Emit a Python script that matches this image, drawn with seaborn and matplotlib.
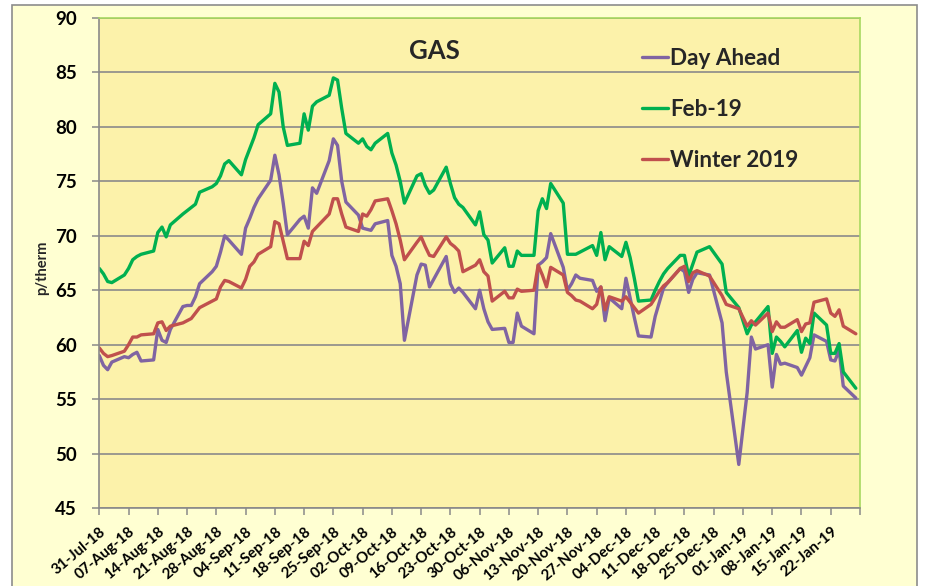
import matplotlib
matplotlib.use("Agg")
import matplotlib.pyplot as plt
import matplotlib.dates as mdates
from matplotlib.patches import Rectangle
from matplotlib.lines import Line2D
import seaborn as sns
import pandas as pd

# ---------------- data ----------------
holidays = ["2018-12-25", "2018-12-26", "2019-01-01"]
dates = [d for d in pd.bdate_range("2018-07-31", "2019-01-28")
         if d.strftime("%Y-%m-%d") not in holidays]

day_ahead = [
    59.0, 58.1, 57.7, 58.4,
    58.9, 58.8, 59.1, 59.3, 58.5,
    58.6, 61.4, 60.4, 60.2, 61.4,
    63.5, 63.6, 63.6, 64.4, 65.6,
    66.7, 67.2, 68.5, 70.0, 69.6,
    68.3, 70.7, 71.6, 72.6, 73.4,
    75.1, 77.4, 75.6, 73.0, 70.1,
    71.5, 71.8, 70.7, 74.4, 73.9,
    76.9, 78.9, 78.3, 75.0, 73.1,
    71.9, 70.7, 70.6, 70.5, 71.1,
    71.4, 68.2, 67.2, 65.6, 60.4,
    66.4, 67.4, 67.3, 65.3, 66.0,
    68.1, 65.6, 64.8, 65.2, 64.8,
    63.3, 65.0, 63.3, 62.1, 61.4,
    61.5, 60.2, 60.2, 62.9, 61.7,
    61.0, 67.3, 67.6, 68.0, 70.2,
    67.1, 65.0, 65.6, 66.4, 66.1,
    65.9, 64.9, 65.3, 62.2, 64.3,
    63.3, 66.1, 64.3, 62.5, 60.8,
    60.7, 62.6, 63.9, 65.2, 65.7,
    67.0, 66.7, 64.8, 66.0, 66.6,
    66.4, 62.0, 57.5,
    49.0, 55.6, 60.7, 59.6,
    60.0, 56.1, 59.1, 58.2, 58.3,
    57.9, 57.2, 58.0, 58.8, 60.9,
    60.3, 58.6, 58.5, 59.5, 56.2,
    55.1,
]

feb_19 = [
    67.0, 66.5, 65.8, 65.7,
    66.4, 67.0, 67.8, 68.1, 68.3,
    68.6, 70.3, 70.8, 69.9, 71.0,
    72.0, 72.3, 72.6, 72.9, 74.0,
    74.5, 74.8, 75.5, 76.6, 76.9,
    75.6, 77.0, 78.0, 79.0, 80.2,
    81.2, 84.0, 83.2, 80.0, 78.3,
    78.5, 81.2, 79.7, 81.9, 82.3,
    82.9, 84.5, 84.3, 81.7, 79.4,
    78.5, 78.9, 78.2, 77.9, 78.5,
    79.4, 77.6, 76.5, 75.0, 73.0,
    75.5, 75.7, 74.6, 73.9, 74.2,
    76.3, 74.8, 73.5, 72.9, 72.6,
    71.0, 72.2, 70.1, 69.6, 67.5,
    68.9, 67.2, 67.2, 68.6, 68.2,
    68.2, 72.3, 73.4, 72.5, 74.8,
    73.0, 68.3, 68.3, 68.3, 68.5,
    69.1, 68.2, 70.3, 67.8, 69.0,
    68.1, 69.4, 68.0, 66.1, 64.0,
    64.1, 65.0, 65.8, 66.5, 67.0,
    68.2, 68.2, 66.3, 67.4, 68.5,
    69.0, 67.4, 64.8,
    63.4, 61.0, 61.8, 62.1,
    63.5, 59.2, 60.7, 60.3, 59.8,
    61.3, 59.3, 60.6, 60.1, 62.9,
    61.8, 59.2, 59.2, 60.1, 57.5,
    56.0,
]

winter_2019 = [
    59.7, 59.2, 58.9, 59.0,
    59.4, 60.0, 60.7, 60.7, 60.9,
    61.0, 62.0, 62.1, 61.3, 61.7,
    62.0, 62.2, 62.4, 62.9, 63.4,
    64.0, 64.2, 65.3, 65.9, 65.8,
    65.2, 66.0, 67.2, 67.6, 68.3,
    69.0, 71.3, 71.1, 69.5, 67.9,
    67.9, 69.5, 69.1, 70.4, 70.8,
    72.0, 73.4, 73.4, 72.0, 70.8,
    70.4, 72.0, 71.8, 72.4, 73.2,
    73.4, 72.3, 71.1, 69.6, 67.8,
    69.4, 69.9, 69.0, 68.2, 68.1,
    69.9, 69.3, 69.0, 68.6, 66.7,
    67.3, 67.8, 66.7, 66.3, 64.0,
    64.9, 64.3, 64.3, 65.1, 64.9,
    65.0, 67.3, 66.4, 65.3, 67.1,
    66.4, 64.8, 64.5, 64.1, 64.0,
    63.3, 63.7, 65.3, 63.2, 64.4,
    64.0, 64.4, 63.9, 63.4, 62.9,
    63.7, 64.3, 64.9, 65.4, 65.7,
    67.0, 67.2, 65.8, 66.6, 66.8,
    66.3, 64.5, 63.7,
    63.3, 61.7, 62.2, 61.8,
    62.9, 61.2, 62.1, 61.6, 61.6,
    62.3, 61.2, 61.9, 62.0, 63.9,
    64.2, 62.9, 62.6, 63.2, 61.7,
    61.0,
]

series_names = ["Day Ahead", "Feb-19", "Winter 2019"]
series_colors = ["#8064A2", "#00B050", "#C0504D"]
tick_dates = pd.date_range("2018-07-31", "2019-01-29", freq="7D")
tick_labels = [d.strftime("%d-%b-%y") for d in tick_dates[:-1]] + [""]
y_ticks = [45, 50, 55, 60, 65, 70, 75, 80, 85, 90]

df = pd.concat([
    pd.DataFrame({"date": dates, "price": vals, "series": name})
    for name, vals in zip(series_names, [day_ahead, feb_19, winter_2019])
], ignore_index=True)

# ---------------- style ----------------
sns.set_theme(style="white")
plt.rcParams["font.family"] = ["Lato", "DejaVu Sans"]
plt.rcParams["font.weight"] = "bold"

W, H = 925, 586
fig = plt.figure(figsize=(W / 100, H / 100), dpi=100, facecolor="white")
fig.patches.append(Rectangle((12 / W, -0.02), (917 - 12) / W, 1 - 4.5 / H + 0.02,
                             transform=fig.transFigure, facecolor="#FFFFD2",
                             edgecolor="#8C8C8C", lw=1.2, zorder=-10))

left, right, top, bottom = 99.3, 860.0, 18.0, 508.0
ax = fig.add_axes([left / W, 1 - bottom / H, (right - left) / W, (bottom - top) / H])
ax.set_zorder(1)
ax.set_facecolor("#FCF2AA")

sns.lineplot(data=df, x="date", y="price", hue="series", hue_order=series_names,
             palette=series_colors, linewidth=2.4, estimator=None, ax=ax, legend=False)

ax.set_ylim(45, 90)
ax.set_yticks(y_ticks)
ax.set_yticklabels([str(v) for v in y_ticks], fontsize=13.5, fontweight="bold")
ax.set_xlim(mdates.date2num(pd.Timestamp("2018-07-31")), mdates.date2num(pd.Timestamp("2019-01-29")))
ax.set_xticks(mdates.date2num(tick_dates))
ax.set_xticklabels(tick_labels, rotation=40, ha="right", rotation_mode="anchor",
                   fontsize=10.8, fontweight="bold")

ax.yaxis.grid(True, color="#8A8A8A", lw=1.2)
ax.xaxis.grid(False)
ax.set_axisbelow(True)

ax.tick_params(axis="both", direction="out", length=5, width=1.1, color="#8A8A8A",
               bottom=True, left=True, labelcolor="black")
ax.tick_params(axis="y", pad=11)
ax.tick_params(axis="x", pad=7)

for s in ["left", "bottom"]:
    ax.spines[s].set_color("#8A8A8A")
    ax.spines[s].set_linewidth(1.2)
for s in ["top", "right"]:
    ax.spines[s].set_color("#A8D860")
    ax.spines[s].set_linewidth(1.2)

ax.set_xlabel("")
ax.set_ylabel("p/therm", fontsize=10.5, fontweight="bold")
ax.yaxis.set_label_coords(-0.066, 0.49)

ax.text((434 - left) / (right - left), (bottom - 51) / (bottom - top), "GAS",
        transform=ax.transAxes, ha="center", va="center", fontsize=18.5, fontweight="bold")

handles = [Line2D([0], [0], color=c, lw=2.4) for c in series_colors]
leg = ax.legend(handles, series_names, loc="upper left",
                bbox_to_anchor=((641.7 - left) / (right - left), (bottom - 48) / (bottom - top)),
                frameon=False, prop={"size": 16.2, "weight": "bold"},
                handlelength=1.15, handletextpad=0.12, labelspacing=1.33,
                borderpad=0, borderaxespad=0)

fig.savefig("out.png", dpi=100, facecolor=fig.get_facecolor())
